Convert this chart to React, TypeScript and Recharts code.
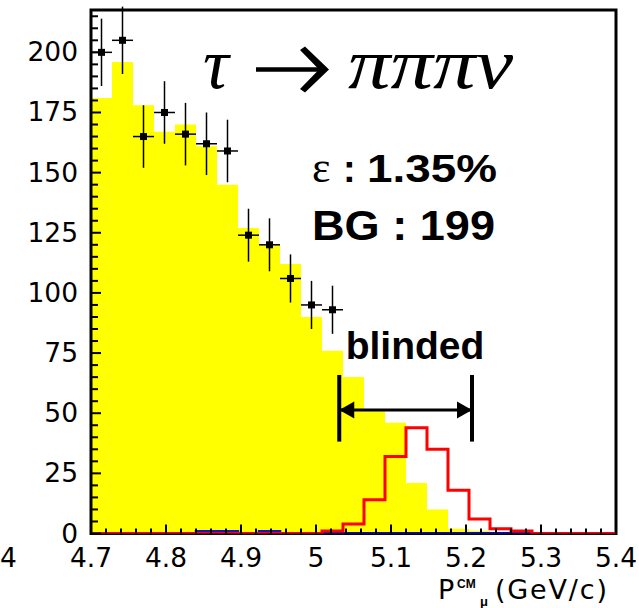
import React from 'react';
import {
  ComposedChart,
  Area,
  Line,
  Scatter,
  ErrorBar,
  XAxis,
  YAxis,
  ReferenceArea,
  ReferenceLine,
  ReferenceDot,
} from 'recharts';

// histogram bin edges, 25 bins between 4.7 and 5.4 GeV/c
const binEdges = [
  4.7, 4.728, 4.756, 4.784, 4.812, 4.84, 4.868, 4.896, 4.924, 4.952, 4.98, 5.008, 5.036,
  5.064, 5.092, 5.12, 5.148, 5.176, 5.204, 5.232, 5.26, 5.288, 5.316, 5.344, 5.372, 5.4,
];

// background MC (yellow)
const bgCounts = [181, 196, 178, 167, 170, 161, 145, 127, 120, 112, 90, 76, 65, 51, 46, 21, 10, 2, 1, 0, 0, 0, 0, 0, 0];
// signal MC (red outline)
const sigCounts = [0, 0, 0, 0, 0, 0, 0, 0, 0, 0, 0, 1, 4, 14, 32, 44, 35, 18, 6, 2, 1, 0, 0, 0, 0];
// tiny blue histogram near the axis
const blueCounts = [0, 0, 0, 0, 0, 0.9, 0.9, 0, 0.9, 0, 0, 0, 0, 0, 0, 0, 0, 0, 0, 0, 0, 0, 0, 0, 0];

// data points (outside blinded region)
const dataX = [4.714, 4.742, 4.77, 4.798, 4.826, 4.854, 4.882, 4.91, 4.938, 4.966, 4.994, 5.022];
const dataY = [200, 205, 165, 175, 166, 162, 159, 124, 120, 106, 95, 93];
const dataErrY = [14, 14, 13, 13, 13, 13, 13, 11, 11, 10, 10, 10];
const dataErrX = [0.014, 0.014, 0.014, 0.014, 0.014, 0.014, 0.014, 0.014, 0.014, 0.014, 0.014, 0.014];

// blinded window marker
const blindLo = 5.031;
const blindHi = 5.208;
const blindArrowY = 51.3;
const blindBarLo = 38.2;
const blindBarHi = 65.9;

const yMax = 217.6;
const yTickLabels = [0, 25, 50, 75, 100, 125, 150, 175, 200];
const xTickLabels = ['4.7', '4.8', '4.9', '5', '5.1', '5.2', '5.3', '5.4'];

const histData = binEdges.map((x, i) => ({
  x,
  bg: bgCounts[i] ?? 0,
  sig: sigCounts[i] ?? 0,
  blue: blueCounts[i] ?? 0,
}));

const points = dataX.map((x, i) => ({ x, y: dataY[i], ey: dataErrY[i], ex: dataErrX[i] }));

// minor ticks every 5 counts and every 0.02 GeV/c
const yTicks: number[] = [];
for (let v = 0; v <= 215; v += 5) yTicks.push(v);
const xTicks: number[] = [];
for (let k = 0; k <= 35; k++) xTicks.push(Math.round((4.7 + 0.02 * k) * 100) / 100);

const labelFont = 'DejaVu Sans, sans-serif';
const boldFont = 'Liberation Sans, Arial, sans-serif';

const YTick = (props: any) => {
  const { x, y, payload } = props;
  const v = payload.value;
  const major = yTickLabels.includes(v);
  return (
    <g>
      <line x1={x} x2={x + (major ? 10 : 7)} y1={y} y2={y} stroke="#000" strokeWidth={2} />
      {major && (
        <text x={x - 13} y={y} dy="0.34em" textAnchor="end" fontFamily={labelFont} fontSize={26.5} fill="#000">
          {v}
        </text>
      )}
    </g>
  );
};

const XTick = (props: any) => {
  const { x, y, payload } = props;
  const v = payload.value;
  const label = xTickLabels.find((t) => Math.abs(parseFloat(t) - v) < 1e-6);
  return (
    <g>
      <line x1={x} x2={x} y1={y} y2={y - (label ? 9 : 5)} stroke="#000" strokeWidth={2} />
      {label && (
        <text x={x} y={y + 33} textAnchor="middle" fontFamily={labelFont} fontSize={26.5} fill="#000">
          {label}
        </text>
      )}
    </g>
  );
};

const Marker = (props: any) => {
  const { cx, cy } = props;
  return <rect x={cx - 3.5} y={cy - 3.5} width={7} height={7} fill="#000" />;
};

const ArrowHead = (dir: number) => (props: any) => {
  const { cx, cy } = props;
  return (
    <polygon
      points={`${cx},${cy} ${cx - dir * 15},${cy - 8.5} ${cx - dir * 15},${cy + 8.5}`}
      fill="#000"
    />
  );
};

export default function App() {
  return (
    <div style={{ position: 'absolute', left: 0, top: 0, width: 639, height: 608, background: '#fff' }}>
      <ComposedChart
        width={639}
        height={608}
        data={histData}
        margin={{ top: 10, right: 23, bottom: 0, left: 0 }}
      >
        <XAxis
          dataKey="x"
          type="number"
          domain={[4.7, 5.4]}
          allowDataOverflow
          ticks={xTicks}
          interval={0}
          tick={<XTick />}
          tickLine={false}
          tickSize={0}
          tickMargin={0}
          axisLine={false}
          height={74.5}
        />
        <YAxis
          type="number"
          domain={[0, yMax]}
          allowDataOverflow
          ticks={yTicks}
          interval={0}
          tick={<YTick />}
          tickLine={false}
          tickSize={0}
          tickMargin={0}
          axisLine={false}
          width={91}
        />
        <Area
          type="stepAfter"
          dataKey="bg"
          stroke="none"
          fill="#ffff00"
          fillOpacity={1}
          isAnimationActive={false}
        />
        <Line
          type="stepAfter"
          dataKey="blue"
          stroke="#1010e8"
          strokeWidth={2.5}
          dot={false}
          isAnimationActive={false}
        />
        <Line
          type="stepAfter"
          dataKey="sig"
          stroke="#ff0000"
          strokeWidth={3}
          dot={false}
          isAnimationActive={false}
        />
        <Scatter data={points} dataKey="y" shape={<Marker />} isAnimationActive={false}>
          <ErrorBar dataKey="ey" direction="y" width={0} stroke="#000" strokeWidth={1.5} />
          <ErrorBar dataKey="ex" direction="x" width={0} stroke="#000" strokeWidth={1.5} />
        </Scatter>
        <ReferenceLine
          segment={[{ x: blindLo, y: blindArrowY }, { x: blindHi, y: blindArrowY }]}
          stroke="#000"
          strokeWidth={3}
        />
        <ReferenceLine
          segment={[{ x: blindLo, y: blindBarLo }, { x: blindLo, y: blindBarHi }]}
          stroke="#000"
          strokeWidth={4}
        />
        <ReferenceLine
          segment={[{ x: blindHi, y: blindBarLo }, { x: blindHi, y: blindBarHi }]}
          stroke="#000"
          strokeWidth={4}
        />
        <ReferenceDot x={blindLo} y={blindArrowY} r={1} shape={ArrowHead(-1)} />
        <ReferenceDot x={blindHi} y={blindArrowY} r={1} shape={ArrowHead(1)} />
        <ReferenceArea x1={4.7} x2={5.4} y1={0} y2={yMax} fill="none" stroke="#000" strokeWidth={3} />
      </ComposedChart>

      <svg
        width={639}
        height={608}
        style={{ position: 'absolute', left: 0, top: 0, pointerEvents: 'none' }}
      >
        {/* decay mode */}
        <text x={203} y={88} fontFamily="Liberation Serif, serif" fontStyle="italic" fontSize={72} fill="#000">
          τ
        </text>
        <line x1={256} x2={322} y1={69.5} y2={69.5} stroke="#000" strokeWidth={4.5} />
        <path d="M300,50 L305,46.5 L329,69.5 L305,92.5 L300,89 L319,69.5 Z" fill="#000" />
        <text x={348} y={88} fontFamily="Liberation Serif, serif" fontStyle="italic" fontSize={72} textLength={165} lengthAdjust="spacingAndGlyphs" fill="#000">
          πππν
        </text>

        <text x={312} y={182} fontFamily="Liberation Serif, serif" fontSize={44} fill="#000">
          ε
        </text>
        <text x={343} y={182} fontFamily={boldFont} fontWeight="bold" fontSize={38} fill="#000">
          :
        </text>
        <text x={367} y={182} fontFamily={boldFont} fontWeight="bold" fontSize={38} textLength={130} lengthAdjust="spacingAndGlyphs" fill="#000">
          1.35%
        </text>
        <text x={312} y={240} fontFamily={boldFont} fontWeight="bold" fontSize={43} textLength={183} lengthAdjust="spacingAndGlyphs" fill="#000">
          BG : 199
        </text>

        <text x={415} y={359} textAnchor="middle" fontFamily={boldFont} fontWeight="bold" fontSize={39} fill="#000">
          blinded
        </text>

        {/* clipped tick label at the left edge */}
        <text x={0} y={567} fontFamily={labelFont} fontSize={26.5} fill="#000">
          4
        </text>

        {/* axis title */}
        <text x={438} y={599} fontFamily={labelFont} fontSize={27} fill="#000">
          P
        </text>
        <text x={457} y={588} fontFamily={boldFont} fontWeight="bold" fontSize={12} fill="#000">
          CM
        </text>
        <text x={480} y={606} fontFamily={boldFont} fontWeight="bold" fontSize={13} fill="#000">
          μ
        </text>
        <text x={495} y={599} fontFamily={labelFont} fontSize={27} textLength={112} fill="#000">
          (GeV/c)
        </text>
      </svg>
    </div>
  );
}
